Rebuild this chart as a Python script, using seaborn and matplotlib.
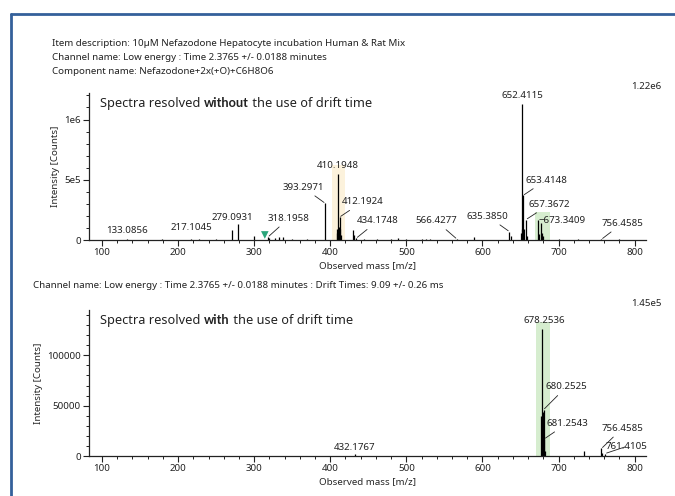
import matplotlib
matplotlib.use('Agg')
import numpy as np
import pandas as pd
import seaborn as sns
from matplotlib import pyplot as plt
from matplotlib.ticker import MultipleLocator, FixedLocator, FixedFormatter

sns.set_style("ticks")
plt.rcParams['font.family'] = ['Noto Sans', 'DejaVu Sans']
plt.rcParams['text.color'] = '#222222'

# spectrum without drift time (m/z, counts)
top_mz = [133.09, 179.5, 217.10, 228.0, 250.0, 270.8, 279.09, 300.0, 318.20, 320.0,
          327.6, 333.3, 337.6, 350.0, 370.0, 393.30, 408.5, 409.2, 410.19, 411.2,
          412.19, 413.2, 414.2, 430.5, 431.2, 434.17, 445.0, 462.0, 480.0, 489.0,
          500.0, 520.0, 526.0, 531.0, 566.43, 588.9, 635.39, 637.0, 650.4, 651.4,
          652.41, 653.41, 654.4, 657.37, 658.4, 673.34, 674.3, 677.5, 678.5, 679.5,
          700.0, 725.0, 756.46, 779.0]
top_int = [8000, 10000, 9000, 6000, 5000, 83000, 133000, 30000, 25000, 15000,
           20000, 22000, 25000, 8000, 12000, 305000, 60000, 95000, 550000, 110000,
           190000, 90000, 40000, 83000, 40000, 15000, 10000, 6000, 12000, 15000,
           10000, 12000, 10000, 12000, 8000, 25000, 70000, 35000, 60000, 95000,
           1130000, 370000, 90000, 170000, 30000, 170000, 50000, 140000, 60000, 30000,
           12000, 8000, 6000, 5000]

# spectrum with drift time
bot_mz = [432.18, 677.6, 678.25, 679.3, 680.25, 681.25, 682.25, 733.5, 756.46, 757.5, 761.41]
bot_int = [2000, 40000, 126000, 44000, 46000, 17000, 5000, 5000, 7500, 3000, 2500]

top_labels = ["133.0856", "217.1045", "279.0931", "318.1958", "393.2971", "410.1948",
              "412.1924", "434.1748", "566.4277", "635.3850", "652.4115", "653.4148",
              "657.3672", "\u2212673.3409", "756.4585"]
top_label_mz = [133.09, 217.10, 279.09, 318.20, 393.30, 410.19, 412.19, 434.17,
                566.43, 635.39, 652.41, 653.41, 657.37, 673.34, 756.46]
top_label_int = [8000, 9000, 133000, 25000, 305000, 550000, 190000, 15000,
                 8000, 70000, 1130000, 370000, 170000, 170000, 6000]
# label offsets in points, and whether a leader is drawn
top_off = [(0, 6), (0, 8), (-4, 5), (15, 13.5), (-16, 11.5), (0, 6), (16.5, 11),
           (15.5, 12.5), (-15, 13), (-15.5, 11), (0, 6), (16.5, 11), (17, 11), (17, -1), (15, 11.5)]
top_lead = [False, False, False, True, True, False, True, True, True, True, False,
            True, True, False, True]

bot_labels = ["432.1767", "678.2536", "680.2525", "681.2543", "756.4585", "761.4105"]
bot_label_mz = [432.18, 678.25, 680.25, 681.25, 756.46, 761.41]
bot_label_int = [2000, 126000, 46000, 17000, 7500, 2500]
bot_off = [(0, 5), (2, 6), (16.5, 16.5), (16.5, 11.2), (15, 14.5), (15, 5)]
bot_lead = [False, False, True, True, True, True]

# highlighted windows (m/z range, height)
top_band_lo = [402.0, 669.5]
top_band_hi = [420.0, 689.0]
top_band_top = [620000, 235000]
top_band_col = ['#fcf2dc', '#d6edcf']
bot_band_lo = [670.0]
bot_band_hi = [689.0]
bot_band_top = [133000]
bot_band_col = ['#d6edcf']

marker_mz = [314.0]
marker_int = [42000]

header = ["Item description: 10\u00b5M Nefazodone Hepatocyte incubation Human & Rat Mix",
          "Channel name: Low energy : Time 2.3765 +/- 0.0188 minutes",
          "Component name: Nefazodone+2x(+O)+C6H8O6"]
mid_line = "Channel name: Low energy : Time 2.3765 +/- 0.0188 minutes : Drift Times: 9.09 +/- 0.26 ms"

fig = plt.figure(figsize=(6.75, 4.96), dpi=100)
ax1 = fig.add_axes([0.1319, 0.5161, 0.8252, 0.2964])
ax2 = fig.add_axes([0.1319, 0.0806, 0.8252, 0.2944])

# blue frame
fig.add_artist(plt.Line2D([11/675, 11/675], [0, 1 - 14/496], color='#34609a', lw=2))
fig.add_artist(plt.Line2D([11/675, 1], [1 - 14/496, 1 - 14/496], color='#34609a', lw=2))

for i, t in enumerate(header):
    fig.text(52/675, 1 - (43 + 14*i)/496, t, fontsize=7, va='center')
fig.text(33/675, 1 - 285/496, mid_line, fontsize=7, va='center')


def draw(ax, mz, inten, lo, hi, tp, cols, labels, lmz, lint, offs, leads, ymax):
    for a, b, h, c in zip(lo, hi, tp, cols):
        ax.fill_between([a, b], 0, h, color=c, lw=0, zorder=0)
    ax.vlines(mz, 0, inten, color='black', lw=0.9, zorder=2)
    for t, x, y, o, ld in zip(labels, lmz, lint, offs, leads):
        ax.annotate(t, xy=(x, y), xytext=o, textcoords='offset points',
                    ha='center', va='center', fontsize=7,
                    arrowprops=dict(arrowstyle='-', lw=0.6, color='#222222',
                                    shrinkA=1, shrinkB=1) if ld else None)
    ax.set_xlim(83, 815)
    ax.set_ylim(0, ymax)
    ax.xaxis.set_major_locator(MultipleLocator(100))
    ax.xaxis.set_minor_locator(MultipleLocator(20))
    ax.tick_params(which='major', length=4, width=0.8, labelsize=7, pad=2, colors='#222222')
    ax.tick_params(which='minor', length=2, width=0.7, colors='#222222')
    for s in ['left', 'bottom']:
        ax.spines[s].set_linewidth(0.9)
        ax.spines[s].set_color('#222222')
    ax.set_xlabel("Observed mass [m/z]", fontsize=7, labelpad=3)
    ax.set_ylabel("Intensity [Counts]", fontsize=7, labelpad=3)
    sns.despine(ax=ax)


draw(ax1, top_mz, top_int, top_band_lo, top_band_hi, top_band_top, top_band_col,
     top_labels, top_label_mz, top_label_int, top_off, top_lead, 1.22e6)
ax1.yaxis.set_major_locator(FixedLocator([0, 5e5, 1e6]))
ax1.yaxis.set_major_formatter(FixedFormatter(['0', '5e5', '1e6']))
ax1.yaxis.set_minor_locator(MultipleLocator(1e5))
sns.scatterplot(x=marker_mz, y=marker_int, ax=ax1, marker='v', color='#2aa57a',
                s=30, edgecolor='none', zorder=3)

draw(ax2, bot_mz, bot_int, bot_band_lo, bot_band_hi, bot_band_top, bot_band_col,
     bot_labels, bot_label_mz, bot_label_int, bot_off, bot_lead, 1.45e5)
ax2.yaxis.set_major_locator(FixedLocator([0, 50000, 100000]))
ax2.yaxis.set_major_formatter(FixedFormatter(['0', '50000', '100000']))
ax2.yaxis.set_minor_locator(MultipleLocator(10000))

ax1.text(1.0, 1.045, "1.22e6", transform=ax1.transAxes, ha='center', va='center', fontsize=7)
ax2.text(1.0, 1.045, "1.45e5", transform=ax2.transAxes, ha='center', va='center', fontsize=7)

# panel titles with a bold word
fig.canvas.draw()
rend = fig.canvas.get_renderer()


def mixed_title(ax, parts, y):
    x = 0.02
    inv = ax.transAxes.inverted()
    for txt, bold in parts:
        if bold:
            t = ax.text(x, y, txt, transform=ax.transAxes, fontsize=9.2,
                        family=['Lato', 'DejaVu Sans'], fontweight='bold',
                        va='center', ha='left')
        else:
            t = ax.text(x, y, txt, transform=ax.transAxes, fontsize=9.2,
                        va='center', ha='left')
        bb = t.get_window_extent(renderer=rend)
        x = inv.transform((bb.x1, bb.y0))[0]


mixed_title(ax1, [("Spectra resolved\u00a0", False), ("without", True),
                  ("\u00a0the use of drift time", False)], 0.93)
mixed_title(ax2, [("Spectra resolved\u00a0", False), ("with", True),
                  ("\u00a0the use of drift time", False)], 0.93)

fig.savefig("out.png", dpi=100)
